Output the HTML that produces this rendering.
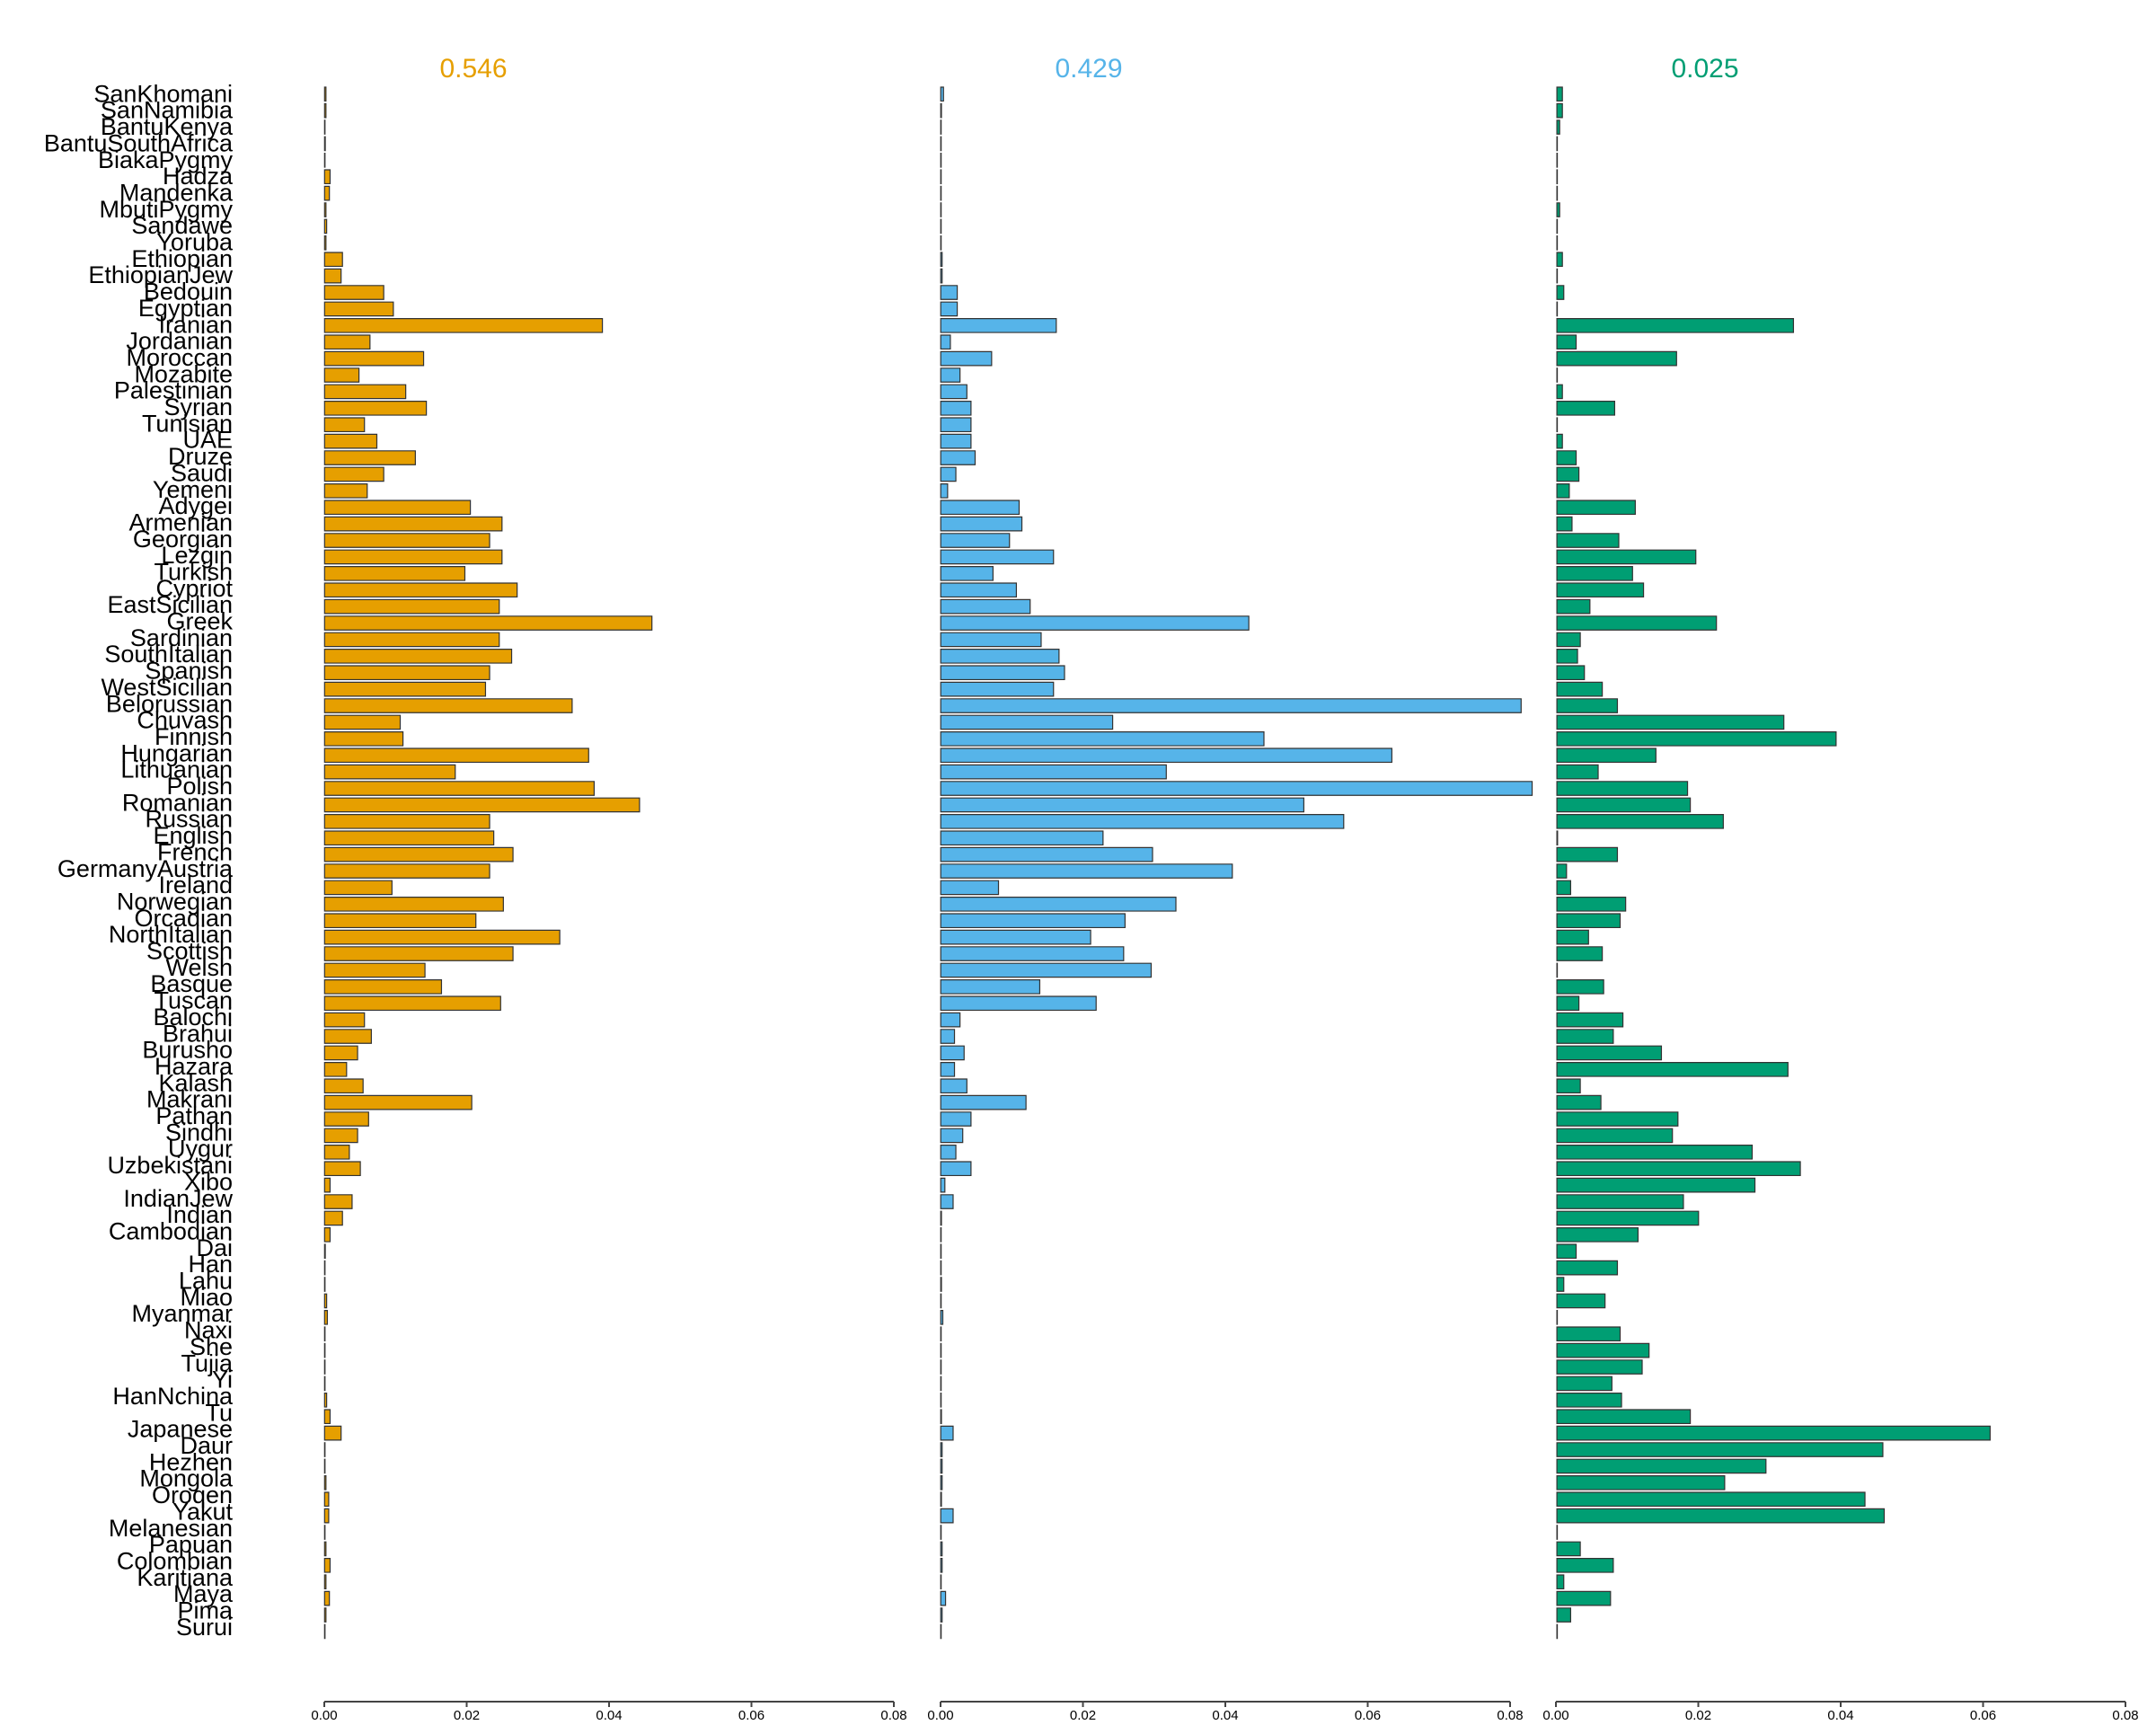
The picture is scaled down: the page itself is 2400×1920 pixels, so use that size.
<!DOCTYPE html>
<html><head><meta charset="utf-8"><style>html,body{margin:0;padding:0;background:#fff}svg{display:block}</style></head>
<body>
<svg width="2400" height="1920" viewBox="0 0 2400 1920" xmlns="http://www.w3.org/2000/svg" font-family="Liberation Sans, sans-serif">
<rect width="2400" height="1920" fill="#fff"/>
<text x="527" y="86" font-size="30" fill="#E69F00" text-anchor="middle">0.546</text>
<text x="1212" y="86" font-size="30" fill="#56B4E9" text-anchor="middle">0.429</text>
<text x="1898" y="86" font-size="30" fill="#009E73" text-anchor="middle">0.025</text>
<text x="259" y="95" font-size="27" fill="#000" text-anchor="end"><tspan x="259" dy="18.35">SanKhomani</tspan><tspan x="259" dy="18.35">SanNamibia</tspan><tspan x="259" dy="18.35">BantuKenya</tspan><tspan x="259" dy="18.35">BantuSouthAfrica</tspan><tspan x="259" dy="18.35">BiakaPygmy</tspan><tspan x="259" dy="18.35">Hadza</tspan><tspan x="259" dy="18.35">Mandenka</tspan><tspan x="259" dy="18.35">MbutiPygmy</tspan><tspan x="259" dy="18.35">Sandawe</tspan><tspan x="259" dy="18.35">Yoruba</tspan><tspan x="259" dy="18.35">Ethiopian</tspan><tspan x="259" dy="18.35">EthiopianJew</tspan><tspan x="259" dy="18.35">Bedouin</tspan><tspan x="259" dy="18.35">Egyptian</tspan><tspan x="259" dy="18.35">Iranian</tspan><tspan x="259" dy="18.35">Jordanian</tspan><tspan x="259" dy="18.35">Moroccan</tspan><tspan x="259" dy="18.35">Mozabite</tspan><tspan x="259" dy="18.35">Palestinian</tspan><tspan x="259" dy="18.35">Syrian</tspan><tspan x="259" dy="18.35">Tunisian</tspan><tspan x="259" dy="18.35">UAE</tspan><tspan x="259" dy="18.35">Druze</tspan><tspan x="259" dy="18.35">Saudi</tspan><tspan x="259" dy="18.35">Yemeni</tspan><tspan x="259" dy="18.35">Adygei</tspan><tspan x="259" dy="18.35">Armenian</tspan><tspan x="259" dy="18.35">Georgian</tspan><tspan x="259" dy="18.35">Lezgin</tspan><tspan x="259" dy="18.35">Turkish</tspan><tspan x="259" dy="18.35">Cypriot</tspan><tspan x="259" dy="18.35">EastSicilian</tspan><tspan x="259" dy="18.35">Greek</tspan><tspan x="259" dy="18.35">Sardinian</tspan><tspan x="259" dy="18.35">SouthItalian</tspan><tspan x="259" dy="18.35">Spanish</tspan><tspan x="259" dy="18.35">WestSicilian</tspan><tspan x="259" dy="18.35">Belorussian</tspan><tspan x="259" dy="18.35">Chuvash</tspan><tspan x="259" dy="18.35">Finnish</tspan><tspan x="259" dy="18.35">Hungarian</tspan><tspan x="259" dy="18.35">Lithuanian</tspan><tspan x="259" dy="18.35">Polish</tspan><tspan x="259" dy="18.35">Romanian</tspan><tspan x="259" dy="18.35">Russian</tspan><tspan x="259" dy="18.35">English</tspan><tspan x="259" dy="18.35">French</tspan><tspan x="259" dy="18.35">GermanyAustria</tspan><tspan x="259" dy="18.35">Ireland</tspan><tspan x="259" dy="18.35">Norwegian</tspan><tspan x="259" dy="18.35">Orcadian</tspan><tspan x="259" dy="18.35">NorthItalian</tspan><tspan x="259" dy="18.35">Scottish</tspan><tspan x="259" dy="18.35">Welsh</tspan><tspan x="259" dy="18.35">Basque</tspan><tspan x="259" dy="18.35">Tuscan</tspan><tspan x="259" dy="18.35">Balochi</tspan><tspan x="259" dy="18.35">Brahui</tspan><tspan x="259" dy="18.35">Burusho</tspan><tspan x="259" dy="18.35">Hazara</tspan><tspan x="259" dy="18.35">Kalash</tspan><tspan x="259" dy="18.35">Makrani</tspan><tspan x="259" dy="18.35">Pathan</tspan><tspan x="259" dy="18.35">Sindhi</tspan><tspan x="259" dy="18.35">Uygur</tspan><tspan x="259" dy="18.35">Uzbekistani</tspan><tspan x="259" dy="18.35">Xibo</tspan><tspan x="259" dy="18.35">IndianJew</tspan><tspan x="259" dy="18.35">Indian</tspan><tspan x="259" dy="18.35">Cambodian</tspan><tspan x="259" dy="18.35">Dai</tspan><tspan x="259" dy="18.35">Han</tspan><tspan x="259" dy="18.35">Lahu</tspan><tspan x="259" dy="18.35">Miao</tspan><tspan x="259" dy="18.35">Myanmar</tspan><tspan x="259" dy="18.35">Naxi</tspan><tspan x="259" dy="18.35">She</tspan><tspan x="259" dy="18.35">Tujia</tspan><tspan x="259" dy="18.35">Yi</tspan><tspan x="259" dy="18.35">HanNchina</tspan><tspan x="259" dy="18.35">Tu</tspan><tspan x="259" dy="18.35">Japanese</tspan><tspan x="259" dy="18.35">Daur</tspan><tspan x="259" dy="18.35">Hezhen</tspan><tspan x="259" dy="18.35">Mongola</tspan><tspan x="259" dy="18.35">Oroqen</tspan><tspan x="259" dy="18.35">Yakut</tspan><tspan x="259" dy="18.35">Melanesian</tspan><tspan x="259" dy="18.35">Papuan</tspan><tspan x="259" dy="18.35">Colombian</tspan><tspan x="259" dy="18.35">Karitiana</tspan><tspan x="259" dy="18.35">Maya</tspan><tspan x="259" dy="18.35">Pima</tspan><tspan x="259" dy="18.35">Surui</tspan></text>

<g transform="translate(0,97) scale(1.531,18.4)" stroke="#333" stroke-width="1.2" vector-effect="non-scaling-stroke">
<g fill="#E69F00">
<rect vector-effect="non-scaling-stroke" x="236" y="0" width="1" height="0.84"/>
<rect vector-effect="non-scaling-stroke" x="236" y="1" width="1" height="0.84"/>
<rect vector-effect="non-scaling-stroke" x="236" y="2" width="0.3" height="0.84"/>
<rect vector-effect="non-scaling-stroke" x="236" y="3" width="0.5" height="0.84"/>
<rect vector-effect="non-scaling-stroke" x="236" y="4" width="0.3" height="0.84"/>
<rect vector-effect="non-scaling-stroke" x="236" y="5" width="4" height="0.84"/>
<rect vector-effect="non-scaling-stroke" x="236" y="6" width="3.5" height="0.84"/>
<rect vector-effect="non-scaling-stroke" x="236" y="7" width="1" height="0.84"/>
<rect vector-effect="non-scaling-stroke" x="236" y="8" width="1.5" height="0.84"/>
<rect vector-effect="non-scaling-stroke" x="236" y="9" width="1" height="0.84"/>
<rect vector-effect="non-scaling-stroke" x="236" y="10" width="13" height="0.84"/>
<rect vector-effect="non-scaling-stroke" x="236" y="11" width="12" height="0.84"/>
<rect vector-effect="non-scaling-stroke" x="236" y="12" width="43" height="0.84"/>
<rect vector-effect="non-scaling-stroke" x="236" y="13" width="50" height="0.84"/>
<rect vector-effect="non-scaling-stroke" x="236" y="14" width="202" height="0.84"/>
<rect vector-effect="non-scaling-stroke" x="236" y="15" width="33" height="0.84"/>
<rect vector-effect="non-scaling-stroke" x="236" y="16" width="72" height="0.84"/>
<rect vector-effect="non-scaling-stroke" x="236" y="17" width="25" height="0.84"/>
<rect vector-effect="non-scaling-stroke" x="236" y="18" width="59" height="0.84"/>
<rect vector-effect="non-scaling-stroke" x="236" y="19" width="74" height="0.84"/>
<rect vector-effect="non-scaling-stroke" x="236" y="20" width="29" height="0.84"/>
<rect vector-effect="non-scaling-stroke" x="236" y="21" width="38" height="0.84"/>
<rect vector-effect="non-scaling-stroke" x="236" y="22" width="66" height="0.84"/>
<rect vector-effect="non-scaling-stroke" x="236" y="23" width="43" height="0.84"/>
<rect vector-effect="non-scaling-stroke" x="236" y="24" width="31" height="0.84"/>
<rect vector-effect="non-scaling-stroke" x="236" y="25" width="106" height="0.84"/>
<rect vector-effect="non-scaling-stroke" x="236" y="26" width="129" height="0.84"/>
<rect vector-effect="non-scaling-stroke" x="236" y="27" width="120" height="0.84"/>
<rect vector-effect="non-scaling-stroke" x="236" y="28" width="129" height="0.84"/>
<rect vector-effect="non-scaling-stroke" x="236" y="29" width="102" height="0.84"/>
<rect vector-effect="non-scaling-stroke" x="236" y="30" width="140" height="0.84"/>
<rect vector-effect="non-scaling-stroke" x="236" y="31" width="127" height="0.84"/>
<rect vector-effect="non-scaling-stroke" x="236" y="32" width="238" height="0.84"/>
<rect vector-effect="non-scaling-stroke" x="236" y="33" width="127" height="0.84"/>
<rect vector-effect="non-scaling-stroke" x="236" y="34" width="136" height="0.84"/>
<rect vector-effect="non-scaling-stroke" x="236" y="35" width="120" height="0.84"/>
<rect vector-effect="non-scaling-stroke" x="236" y="36" width="117" height="0.84"/>
<rect vector-effect="non-scaling-stroke" x="236" y="37" width="180" height="0.84"/>
<rect vector-effect="non-scaling-stroke" x="236" y="38" width="55" height="0.84"/>
<rect vector-effect="non-scaling-stroke" x="236" y="39" width="57" height="0.84"/>
<rect vector-effect="non-scaling-stroke" x="236" y="40" width="192" height="0.84"/>
<rect vector-effect="non-scaling-stroke" x="236" y="41" width="95" height="0.84"/>
<rect vector-effect="non-scaling-stroke" x="236" y="42" width="196" height="0.84"/>
<rect vector-effect="non-scaling-stroke" x="236" y="43" width="229" height="0.84"/>
<rect vector-effect="non-scaling-stroke" x="236" y="44" width="120" height="0.84"/>
<rect vector-effect="non-scaling-stroke" x="236" y="45" width="123" height="0.84"/>
<rect vector-effect="non-scaling-stroke" x="236" y="46" width="137" height="0.84"/>
<rect vector-effect="non-scaling-stroke" x="236" y="47" width="120" height="0.84"/>
<rect vector-effect="non-scaling-stroke" x="236" y="48" width="49" height="0.84"/>
<rect vector-effect="non-scaling-stroke" x="236" y="49" width="130" height="0.84"/>
<rect vector-effect="non-scaling-stroke" x="236" y="50" width="110" height="0.84"/>
<rect vector-effect="non-scaling-stroke" x="236" y="51" width="171" height="0.84"/>
<rect vector-effect="non-scaling-stroke" x="236" y="52" width="137" height="0.84"/>
<rect vector-effect="non-scaling-stroke" x="236" y="53" width="73" height="0.84"/>
<rect vector-effect="non-scaling-stroke" x="236" y="54" width="85" height="0.84"/>
<rect vector-effect="non-scaling-stroke" x="236" y="55" width="128" height="0.84"/>
<rect vector-effect="non-scaling-stroke" x="236" y="56" width="29" height="0.84"/>
<rect vector-effect="non-scaling-stroke" x="236" y="57" width="34" height="0.84"/>
<rect vector-effect="non-scaling-stroke" x="236" y="58" width="24" height="0.84"/>
<rect vector-effect="non-scaling-stroke" x="236" y="59" width="16" height="0.84"/>
<rect vector-effect="non-scaling-stroke" x="236" y="60" width="28" height="0.84"/>
<rect vector-effect="non-scaling-stroke" x="236" y="61" width="107" height="0.84"/>
<rect vector-effect="non-scaling-stroke" x="236" y="62" width="32" height="0.84"/>
<rect vector-effect="non-scaling-stroke" x="236" y="63" width="24" height="0.84"/>
<rect vector-effect="non-scaling-stroke" x="236" y="64" width="18" height="0.84"/>
<rect vector-effect="non-scaling-stroke" x="236" y="65" width="26" height="0.84"/>
<rect vector-effect="non-scaling-stroke" x="236" y="66" width="4" height="0.84"/>
<rect vector-effect="non-scaling-stroke" x="236" y="67" width="20" height="0.84"/>
<rect vector-effect="non-scaling-stroke" x="236" y="68" width="13" height="0.84"/>
<rect vector-effect="non-scaling-stroke" x="236" y="69" width="4" height="0.84"/>
<rect vector-effect="non-scaling-stroke" x="236" y="70" width="0.5" height="0.84"/>
<rect vector-effect="non-scaling-stroke" x="236" y="71" width="0.3" height="0.84"/>
<rect vector-effect="non-scaling-stroke" x="236" y="72" width="0.3" height="0.84"/>
<rect vector-effect="non-scaling-stroke" x="236" y="73" width="1.5" height="0.84"/>
<rect vector-effect="non-scaling-stroke" x="236" y="74" width="2" height="0.84"/>
<rect vector-effect="non-scaling-stroke" x="236" y="75" width="0.3" height="0.84"/>
<rect vector-effect="non-scaling-stroke" x="236" y="76" width="0.3" height="0.84"/>
<rect vector-effect="non-scaling-stroke" x="236" y="77" width="0.3" height="0.84"/>
<rect vector-effect="non-scaling-stroke" x="236" y="78" width="0.3" height="0.84"/>
<rect vector-effect="non-scaling-stroke" x="236" y="79" width="1.5" height="0.84"/>
<rect vector-effect="non-scaling-stroke" x="236" y="80" width="4" height="0.84"/>
<rect vector-effect="non-scaling-stroke" x="236" y="81" width="12" height="0.84"/>
<rect vector-effect="non-scaling-stroke" x="236" y="82" width="0.3" height="0.84"/>
<rect vector-effect="non-scaling-stroke" x="236" y="83" width="0.3" height="0.84"/>
<rect vector-effect="non-scaling-stroke" x="236" y="84" width="1" height="0.84"/>
<rect vector-effect="non-scaling-stroke" x="236" y="85" width="3" height="0.84"/>
<rect vector-effect="non-scaling-stroke" x="236" y="86" width="3" height="0.84"/>
<rect vector-effect="non-scaling-stroke" x="236" y="87" width="0.3" height="0.84"/>
<rect vector-effect="non-scaling-stroke" x="236" y="88" width="1" height="0.84"/>
<rect vector-effect="non-scaling-stroke" x="236" y="89" width="4" height="0.84"/>
<rect vector-effect="non-scaling-stroke" x="236" y="90" width="1" height="0.84"/>
<rect vector-effect="non-scaling-stroke" x="236" y="91" width="3.5" height="0.84"/>
<rect vector-effect="non-scaling-stroke" x="236" y="92" width="1" height="0.84"/>
<rect vector-effect="non-scaling-stroke" x="236" y="93" width="0.3" height="0.84"/>
</g>
<g fill="#56B4E9">
<rect vector-effect="non-scaling-stroke" x="684" y="0" width="2" height="0.84"/>
<rect vector-effect="non-scaling-stroke" x="684" y="1" width="0.5" height="0.84"/>
<rect vector-effect="non-scaling-stroke" x="684" y="2" width="0.3" height="0.84"/>
<rect vector-effect="non-scaling-stroke" x="684" y="3" width="0.3" height="0.84"/>
<rect vector-effect="non-scaling-stroke" x="684" y="4" width="0.3" height="0.84"/>
<rect vector-effect="non-scaling-stroke" x="684" y="5" width="0.3" height="0.84"/>
<rect vector-effect="non-scaling-stroke" x="684" y="6" width="0.3" height="0.84"/>
<rect vector-effect="non-scaling-stroke" x="684" y="7" width="0.3" height="0.84"/>
<rect vector-effect="non-scaling-stroke" x="684" y="8" width="0.3" height="0.84"/>
<rect vector-effect="non-scaling-stroke" x="684" y="9" width="0.3" height="0.84"/>
<rect vector-effect="non-scaling-stroke" x="684" y="10" width="1" height="0.84"/>
<rect vector-effect="non-scaling-stroke" x="684" y="11" width="1" height="0.84"/>
<rect vector-effect="non-scaling-stroke" x="684" y="12" width="12" height="0.84"/>
<rect vector-effect="non-scaling-stroke" x="684" y="13" width="12" height="0.84"/>
<rect vector-effect="non-scaling-stroke" x="684" y="14" width="84" height="0.84"/>
<rect vector-effect="non-scaling-stroke" x="684" y="15" width="7" height="0.84"/>
<rect vector-effect="non-scaling-stroke" x="684" y="16" width="37" height="0.84"/>
<rect vector-effect="non-scaling-stroke" x="684" y="17" width="14" height="0.84"/>
<rect vector-effect="non-scaling-stroke" x="684" y="18" width="19" height="0.84"/>
<rect vector-effect="non-scaling-stroke" x="684" y="19" width="22" height="0.84"/>
<rect vector-effect="non-scaling-stroke" x="684" y="20" width="22" height="0.84"/>
<rect vector-effect="non-scaling-stroke" x="684" y="21" width="22" height="0.84"/>
<rect vector-effect="non-scaling-stroke" x="684" y="22" width="25" height="0.84"/>
<rect vector-effect="non-scaling-stroke" x="684" y="23" width="11" height="0.84"/>
<rect vector-effect="non-scaling-stroke" x="684" y="24" width="5" height="0.84"/>
<rect vector-effect="non-scaling-stroke" x="684" y="25" width="57" height="0.84"/>
<rect vector-effect="non-scaling-stroke" x="684" y="26" width="59" height="0.84"/>
<rect vector-effect="non-scaling-stroke" x="684" y="27" width="50" height="0.84"/>
<rect vector-effect="non-scaling-stroke" x="684" y="28" width="82" height="0.84"/>
<rect vector-effect="non-scaling-stroke" x="684" y="29" width="38" height="0.84"/>
<rect vector-effect="non-scaling-stroke" x="684" y="30" width="55" height="0.84"/>
<rect vector-effect="non-scaling-stroke" x="684" y="31" width="65" height="0.84"/>
<rect vector-effect="non-scaling-stroke" x="684" y="32" width="224" height="0.84"/>
<rect vector-effect="non-scaling-stroke" x="684" y="33" width="73" height="0.84"/>
<rect vector-effect="non-scaling-stroke" x="684" y="34" width="86" height="0.84"/>
<rect vector-effect="non-scaling-stroke" x="684" y="35" width="90" height="0.84"/>
<rect vector-effect="non-scaling-stroke" x="684" y="36" width="82" height="0.84"/>
<rect vector-effect="non-scaling-stroke" x="684" y="37" width="422" height="0.84"/>
<rect vector-effect="non-scaling-stroke" x="684" y="38" width="125" height="0.84"/>
<rect vector-effect="non-scaling-stroke" x="684" y="39" width="235" height="0.84"/>
<rect vector-effect="non-scaling-stroke" x="684" y="40" width="328" height="0.84"/>
<rect vector-effect="non-scaling-stroke" x="684" y="41" width="164" height="0.84"/>
<rect vector-effect="non-scaling-stroke" x="684" y="42" width="430" height="0.84"/>
<rect vector-effect="non-scaling-stroke" x="684" y="43" width="264" height="0.84"/>
<rect vector-effect="non-scaling-stroke" x="684" y="44" width="293" height="0.84"/>
<rect vector-effect="non-scaling-stroke" x="684" y="45" width="118" height="0.84"/>
<rect vector-effect="non-scaling-stroke" x="684" y="46" width="154" height="0.84"/>
<rect vector-effect="non-scaling-stroke" x="684" y="47" width="212" height="0.84"/>
<rect vector-effect="non-scaling-stroke" x="684" y="48" width="42" height="0.84"/>
<rect vector-effect="non-scaling-stroke" x="684" y="49" width="171" height="0.84"/>
<rect vector-effect="non-scaling-stroke" x="684" y="50" width="134" height="0.84"/>
<rect vector-effect="non-scaling-stroke" x="684" y="51" width="109" height="0.84"/>
<rect vector-effect="non-scaling-stroke" x="684" y="52" width="133" height="0.84"/>
<rect vector-effect="non-scaling-stroke" x="684" y="53" width="153" height="0.84"/>
<rect vector-effect="non-scaling-stroke" x="684" y="54" width="72" height="0.84"/>
<rect vector-effect="non-scaling-stroke" x="684" y="55" width="113" height="0.84"/>
<rect vector-effect="non-scaling-stroke" x="684" y="56" width="14" height="0.84"/>
<rect vector-effect="non-scaling-stroke" x="684" y="57" width="10" height="0.84"/>
<rect vector-effect="non-scaling-stroke" x="684" y="58" width="17" height="0.84"/>
<rect vector-effect="non-scaling-stroke" x="684" y="59" width="10" height="0.84"/>
<rect vector-effect="non-scaling-stroke" x="684" y="60" width="19" height="0.84"/>
<rect vector-effect="non-scaling-stroke" x="684" y="61" width="62" height="0.84"/>
<rect vector-effect="non-scaling-stroke" x="684" y="62" width="22" height="0.84"/>
<rect vector-effect="non-scaling-stroke" x="684" y="63" width="16" height="0.84"/>
<rect vector-effect="non-scaling-stroke" x="684" y="64" width="11" height="0.84"/>
<rect vector-effect="non-scaling-stroke" x="684" y="65" width="22" height="0.84"/>
<rect vector-effect="non-scaling-stroke" x="684" y="66" width="3" height="0.84"/>
<rect vector-effect="non-scaling-stroke" x="684" y="67" width="9" height="0.84"/>
<rect vector-effect="non-scaling-stroke" x="684" y="68" width="0.5" height="0.84"/>
<rect vector-effect="non-scaling-stroke" x="684" y="69" width="0.3" height="0.84"/>
<rect vector-effect="non-scaling-stroke" x="684" y="70" width="0.3" height="0.84"/>
<rect vector-effect="non-scaling-stroke" x="684" y="71" width="0.3" height="0.84"/>
<rect vector-effect="non-scaling-stroke" x="684" y="72" width="0.5" height="0.84"/>
<rect vector-effect="non-scaling-stroke" x="684" y="73" width="0.3" height="0.84"/>
<rect vector-effect="non-scaling-stroke" x="684" y="74" width="1.5" height="0.84"/>
<rect vector-effect="non-scaling-stroke" x="684" y="75" width="0.3" height="0.84"/>
<rect vector-effect="non-scaling-stroke" x="684" y="76" width="0.3" height="0.84"/>
<rect vector-effect="non-scaling-stroke" x="684" y="77" width="0.3" height="0.84"/>
<rect vector-effect="non-scaling-stroke" x="684" y="78" width="0.3" height="0.84"/>
<rect vector-effect="non-scaling-stroke" x="684" y="79" width="0.3" height="0.84"/>
<rect vector-effect="non-scaling-stroke" x="684" y="80" width="0.5" height="0.84"/>
<rect vector-effect="non-scaling-stroke" x="684" y="81" width="9" height="0.84"/>
<rect vector-effect="non-scaling-stroke" x="684" y="82" width="1" height="0.84"/>
<rect vector-effect="non-scaling-stroke" x="684" y="83" width="1" height="0.84"/>
<rect vector-effect="non-scaling-stroke" x="684" y="84" width="1" height="0.84"/>
<rect vector-effect="non-scaling-stroke" x="684" y="85" width="0.5" height="0.84"/>
<rect vector-effect="non-scaling-stroke" x="684" y="86" width="9" height="0.84"/>
<rect vector-effect="non-scaling-stroke" x="684" y="87" width="0.3" height="0.84"/>
<rect vector-effect="non-scaling-stroke" x="684" y="88" width="1" height="0.84"/>
<rect vector-effect="non-scaling-stroke" x="684" y="89" width="1" height="0.84"/>
<rect vector-effect="non-scaling-stroke" x="684" y="90" width="0.3" height="0.84"/>
<rect vector-effect="non-scaling-stroke" x="684" y="91" width="3.5" height="0.84"/>
<rect vector-effect="non-scaling-stroke" x="684" y="92" width="1" height="0.84"/>
<rect vector-effect="non-scaling-stroke" x="684" y="93" width="0.3" height="0.84"/>
</g>
<g fill="#009E73">
<rect vector-effect="non-scaling-stroke" x="1132" y="0" width="4" height="0.84"/>
<rect vector-effect="non-scaling-stroke" x="1132" y="1" width="4" height="0.84"/>
<rect vector-effect="non-scaling-stroke" x="1132" y="2" width="2" height="0.84"/>
<rect vector-effect="non-scaling-stroke" x="1132" y="3" width="0.3" height="0.84"/>
<rect vector-effect="non-scaling-stroke" x="1132" y="4" width="0.3" height="0.84"/>
<rect vector-effect="non-scaling-stroke" x="1132" y="5" width="0.3" height="0.84"/>
<rect vector-effect="non-scaling-stroke" x="1132" y="6" width="0.3" height="0.84"/>
<rect vector-effect="non-scaling-stroke" x="1132" y="7" width="2" height="0.84"/>
<rect vector-effect="non-scaling-stroke" x="1132" y="8" width="0.3" height="0.84"/>
<rect vector-effect="non-scaling-stroke" x="1132" y="9" width="0.3" height="0.84"/>
<rect vector-effect="non-scaling-stroke" x="1132" y="10" width="4" height="0.84"/>
<rect vector-effect="non-scaling-stroke" x="1132" y="11" width="0.3" height="0.84"/>
<rect vector-effect="non-scaling-stroke" x="1132" y="12" width="5" height="0.84"/>
<rect vector-effect="non-scaling-stroke" x="1132" y="13" width="0.3" height="0.84"/>
<rect vector-effect="non-scaling-stroke" x="1132" y="14" width="172" height="0.84"/>
<rect vector-effect="non-scaling-stroke" x="1132" y="15" width="14" height="0.84"/>
<rect vector-effect="non-scaling-stroke" x="1132" y="16" width="87" height="0.84"/>
<rect vector-effect="non-scaling-stroke" x="1132" y="17" width="0.3" height="0.84"/>
<rect vector-effect="non-scaling-stroke" x="1132" y="18" width="4" height="0.84"/>
<rect vector-effect="non-scaling-stroke" x="1132" y="19" width="42" height="0.84"/>
<rect vector-effect="non-scaling-stroke" x="1132" y="20" width="0.3" height="0.84"/>
<rect vector-effect="non-scaling-stroke" x="1132" y="21" width="4" height="0.84"/>
<rect vector-effect="non-scaling-stroke" x="1132" y="22" width="14" height="0.84"/>
<rect vector-effect="non-scaling-stroke" x="1132" y="23" width="16" height="0.84"/>
<rect vector-effect="non-scaling-stroke" x="1132" y="24" width="9" height="0.84"/>
<rect vector-effect="non-scaling-stroke" x="1132" y="25" width="57" height="0.84"/>
<rect vector-effect="non-scaling-stroke" x="1132" y="26" width="11" height="0.84"/>
<rect vector-effect="non-scaling-stroke" x="1132" y="27" width="45" height="0.84"/>
<rect vector-effect="non-scaling-stroke" x="1132" y="28" width="101" height="0.84"/>
<rect vector-effect="non-scaling-stroke" x="1132" y="29" width="55" height="0.84"/>
<rect vector-effect="non-scaling-stroke" x="1132" y="30" width="63" height="0.84"/>
<rect vector-effect="non-scaling-stroke" x="1132" y="31" width="24" height="0.84"/>
<rect vector-effect="non-scaling-stroke" x="1132" y="32" width="116" height="0.84"/>
<rect vector-effect="non-scaling-stroke" x="1132" y="33" width="17" height="0.84"/>
<rect vector-effect="non-scaling-stroke" x="1132" y="34" width="15" height="0.84"/>
<rect vector-effect="non-scaling-stroke" x="1132" y="35" width="20" height="0.84"/>
<rect vector-effect="non-scaling-stroke" x="1132" y="36" width="33" height="0.84"/>
<rect vector-effect="non-scaling-stroke" x="1132" y="37" width="44" height="0.84"/>
<rect vector-effect="non-scaling-stroke" x="1132" y="38" width="165" height="0.84"/>
<rect vector-effect="non-scaling-stroke" x="1132" y="39" width="203" height="0.84"/>
<rect vector-effect="non-scaling-stroke" x="1132" y="40" width="72" height="0.84"/>
<rect vector-effect="non-scaling-stroke" x="1132" y="41" width="30" height="0.84"/>
<rect vector-effect="non-scaling-stroke" x="1132" y="42" width="95" height="0.84"/>
<rect vector-effect="non-scaling-stroke" x="1132" y="43" width="97" height="0.84"/>
<rect vector-effect="non-scaling-stroke" x="1132" y="44" width="121" height="0.84"/>
<rect vector-effect="non-scaling-stroke" x="1132" y="45" width="0.5" height="0.84"/>
<rect vector-effect="non-scaling-stroke" x="1132" y="46" width="44" height="0.84"/>
<rect vector-effect="non-scaling-stroke" x="1132" y="47" width="7" height="0.84"/>
<rect vector-effect="non-scaling-stroke" x="1132" y="48" width="10" height="0.84"/>
<rect vector-effect="non-scaling-stroke" x="1132" y="49" width="50" height="0.84"/>
<rect vector-effect="non-scaling-stroke" x="1132" y="50" width="46" height="0.84"/>
<rect vector-effect="non-scaling-stroke" x="1132" y="51" width="23" height="0.84"/>
<rect vector-effect="non-scaling-stroke" x="1132" y="52" width="33" height="0.84"/>
<rect vector-effect="non-scaling-stroke" x="1132" y="53" width="0.3" height="0.84"/>
<rect vector-effect="non-scaling-stroke" x="1132" y="54" width="34" height="0.84"/>
<rect vector-effect="non-scaling-stroke" x="1132" y="55" width="16" height="0.84"/>
<rect vector-effect="non-scaling-stroke" x="1132" y="56" width="48" height="0.84"/>
<rect vector-effect="non-scaling-stroke" x="1132" y="57" width="41" height="0.84"/>
<rect vector-effect="non-scaling-stroke" x="1132" y="58" width="76" height="0.84"/>
<rect vector-effect="non-scaling-stroke" x="1132" y="59" width="168" height="0.84"/>
<rect vector-effect="non-scaling-stroke" x="1132" y="60" width="17" height="0.84"/>
<rect vector-effect="non-scaling-stroke" x="1132" y="61" width="32" height="0.84"/>
<rect vector-effect="non-scaling-stroke" x="1132" y="62" width="88" height="0.84"/>
<rect vector-effect="non-scaling-stroke" x="1132" y="63" width="84" height="0.84"/>
<rect vector-effect="non-scaling-stroke" x="1132" y="64" width="142" height="0.84"/>
<rect vector-effect="non-scaling-stroke" x="1132" y="65" width="177" height="0.84"/>
<rect vector-effect="non-scaling-stroke" x="1132" y="66" width="144" height="0.84"/>
<rect vector-effect="non-scaling-stroke" x="1132" y="67" width="92" height="0.84"/>
<rect vector-effect="non-scaling-stroke" x="1132" y="68" width="103" height="0.84"/>
<rect vector-effect="non-scaling-stroke" x="1132" y="69" width="59" height="0.84"/>
<rect vector-effect="non-scaling-stroke" x="1132" y="70" width="14" height="0.84"/>
<rect vector-effect="non-scaling-stroke" x="1132" y="71" width="44" height="0.84"/>
<rect vector-effect="non-scaling-stroke" x="1132" y="72" width="5" height="0.84"/>
<rect vector-effect="non-scaling-stroke" x="1132" y="73" width="35" height="0.84"/>
<rect vector-effect="non-scaling-stroke" x="1132" y="74" width="0.3" height="0.84"/>
<rect vector-effect="non-scaling-stroke" x="1132" y="75" width="46" height="0.84"/>
<rect vector-effect="non-scaling-stroke" x="1132" y="76" width="67" height="0.84"/>
<rect vector-effect="non-scaling-stroke" x="1132" y="77" width="62" height="0.84"/>
<rect vector-effect="non-scaling-stroke" x="1132" y="78" width="40" height="0.84"/>
<rect vector-effect="non-scaling-stroke" x="1132" y="79" width="47" height="0.84"/>
<rect vector-effect="non-scaling-stroke" x="1132" y="80" width="97" height="0.84"/>
<rect vector-effect="non-scaling-stroke" x="1132" y="81" width="315" height="0.84"/>
<rect vector-effect="non-scaling-stroke" x="1132" y="82" width="237" height="0.84"/>
<rect vector-effect="non-scaling-stroke" x="1132" y="83" width="152" height="0.84"/>
<rect vector-effect="non-scaling-stroke" x="1132" y="84" width="122" height="0.84"/>
<rect vector-effect="non-scaling-stroke" x="1132" y="85" width="224" height="0.84"/>
<rect vector-effect="non-scaling-stroke" x="1132" y="86" width="238" height="0.84"/>
<rect vector-effect="non-scaling-stroke" x="1132" y="87" width="0.3" height="0.84"/>
<rect vector-effect="non-scaling-stroke" x="1132" y="88" width="17" height="0.84"/>
<rect vector-effect="non-scaling-stroke" x="1132" y="89" width="41" height="0.84"/>
<rect vector-effect="non-scaling-stroke" x="1132" y="90" width="5" height="0.84"/>
<rect vector-effect="non-scaling-stroke" x="1132" y="91" width="39" height="0.84"/>
<rect vector-effect="non-scaling-stroke" x="1132" y="92" width="10" height="0.84"/>
<rect vector-effect="non-scaling-stroke" x="1132" y="93" width="0.3" height="0.84"/>
</g>
</g>

<g stroke="#444" stroke-width="2" fill="none">
<path d="M361 1894H995M361 1894v6M519.5 1894v6M678 1894v6M836.5 1894v6M995 1894v6"/>
<path d="M1047 1894H1681M1047 1894v6M1205.5 1894v6M1364 1894v6M1522.5 1894v6M1681 1894v6"/>
<path d="M1732 1894H2366M1732 1894v6M1890.5 1894v6M2049 1894v6M2207.5 1894v6M2366 1894v6"/>
</g>
<g font-size="15" fill="#000" text-anchor="middle">
<text x="361" y="1914">0.00</text><text x="519.5" y="1914">0.02</text><text x="678" y="1914">0.04</text><text x="836.5" y="1914">0.06</text><text x="995" y="1914">0.08</text>
<text x="1047" y="1914">0.00</text><text x="1205.5" y="1914">0.02</text><text x="1364" y="1914">0.04</text><text x="1522.5" y="1914">0.06</text><text x="1681" y="1914">0.08</text>
<text x="1732" y="1914">0.00</text><text x="1890.5" y="1914">0.02</text><text x="2049" y="1914">0.04</text><text x="2207.5" y="1914">0.06</text><text x="2366" y="1914">0.08</text>
</g>
</svg>
</body></html>
